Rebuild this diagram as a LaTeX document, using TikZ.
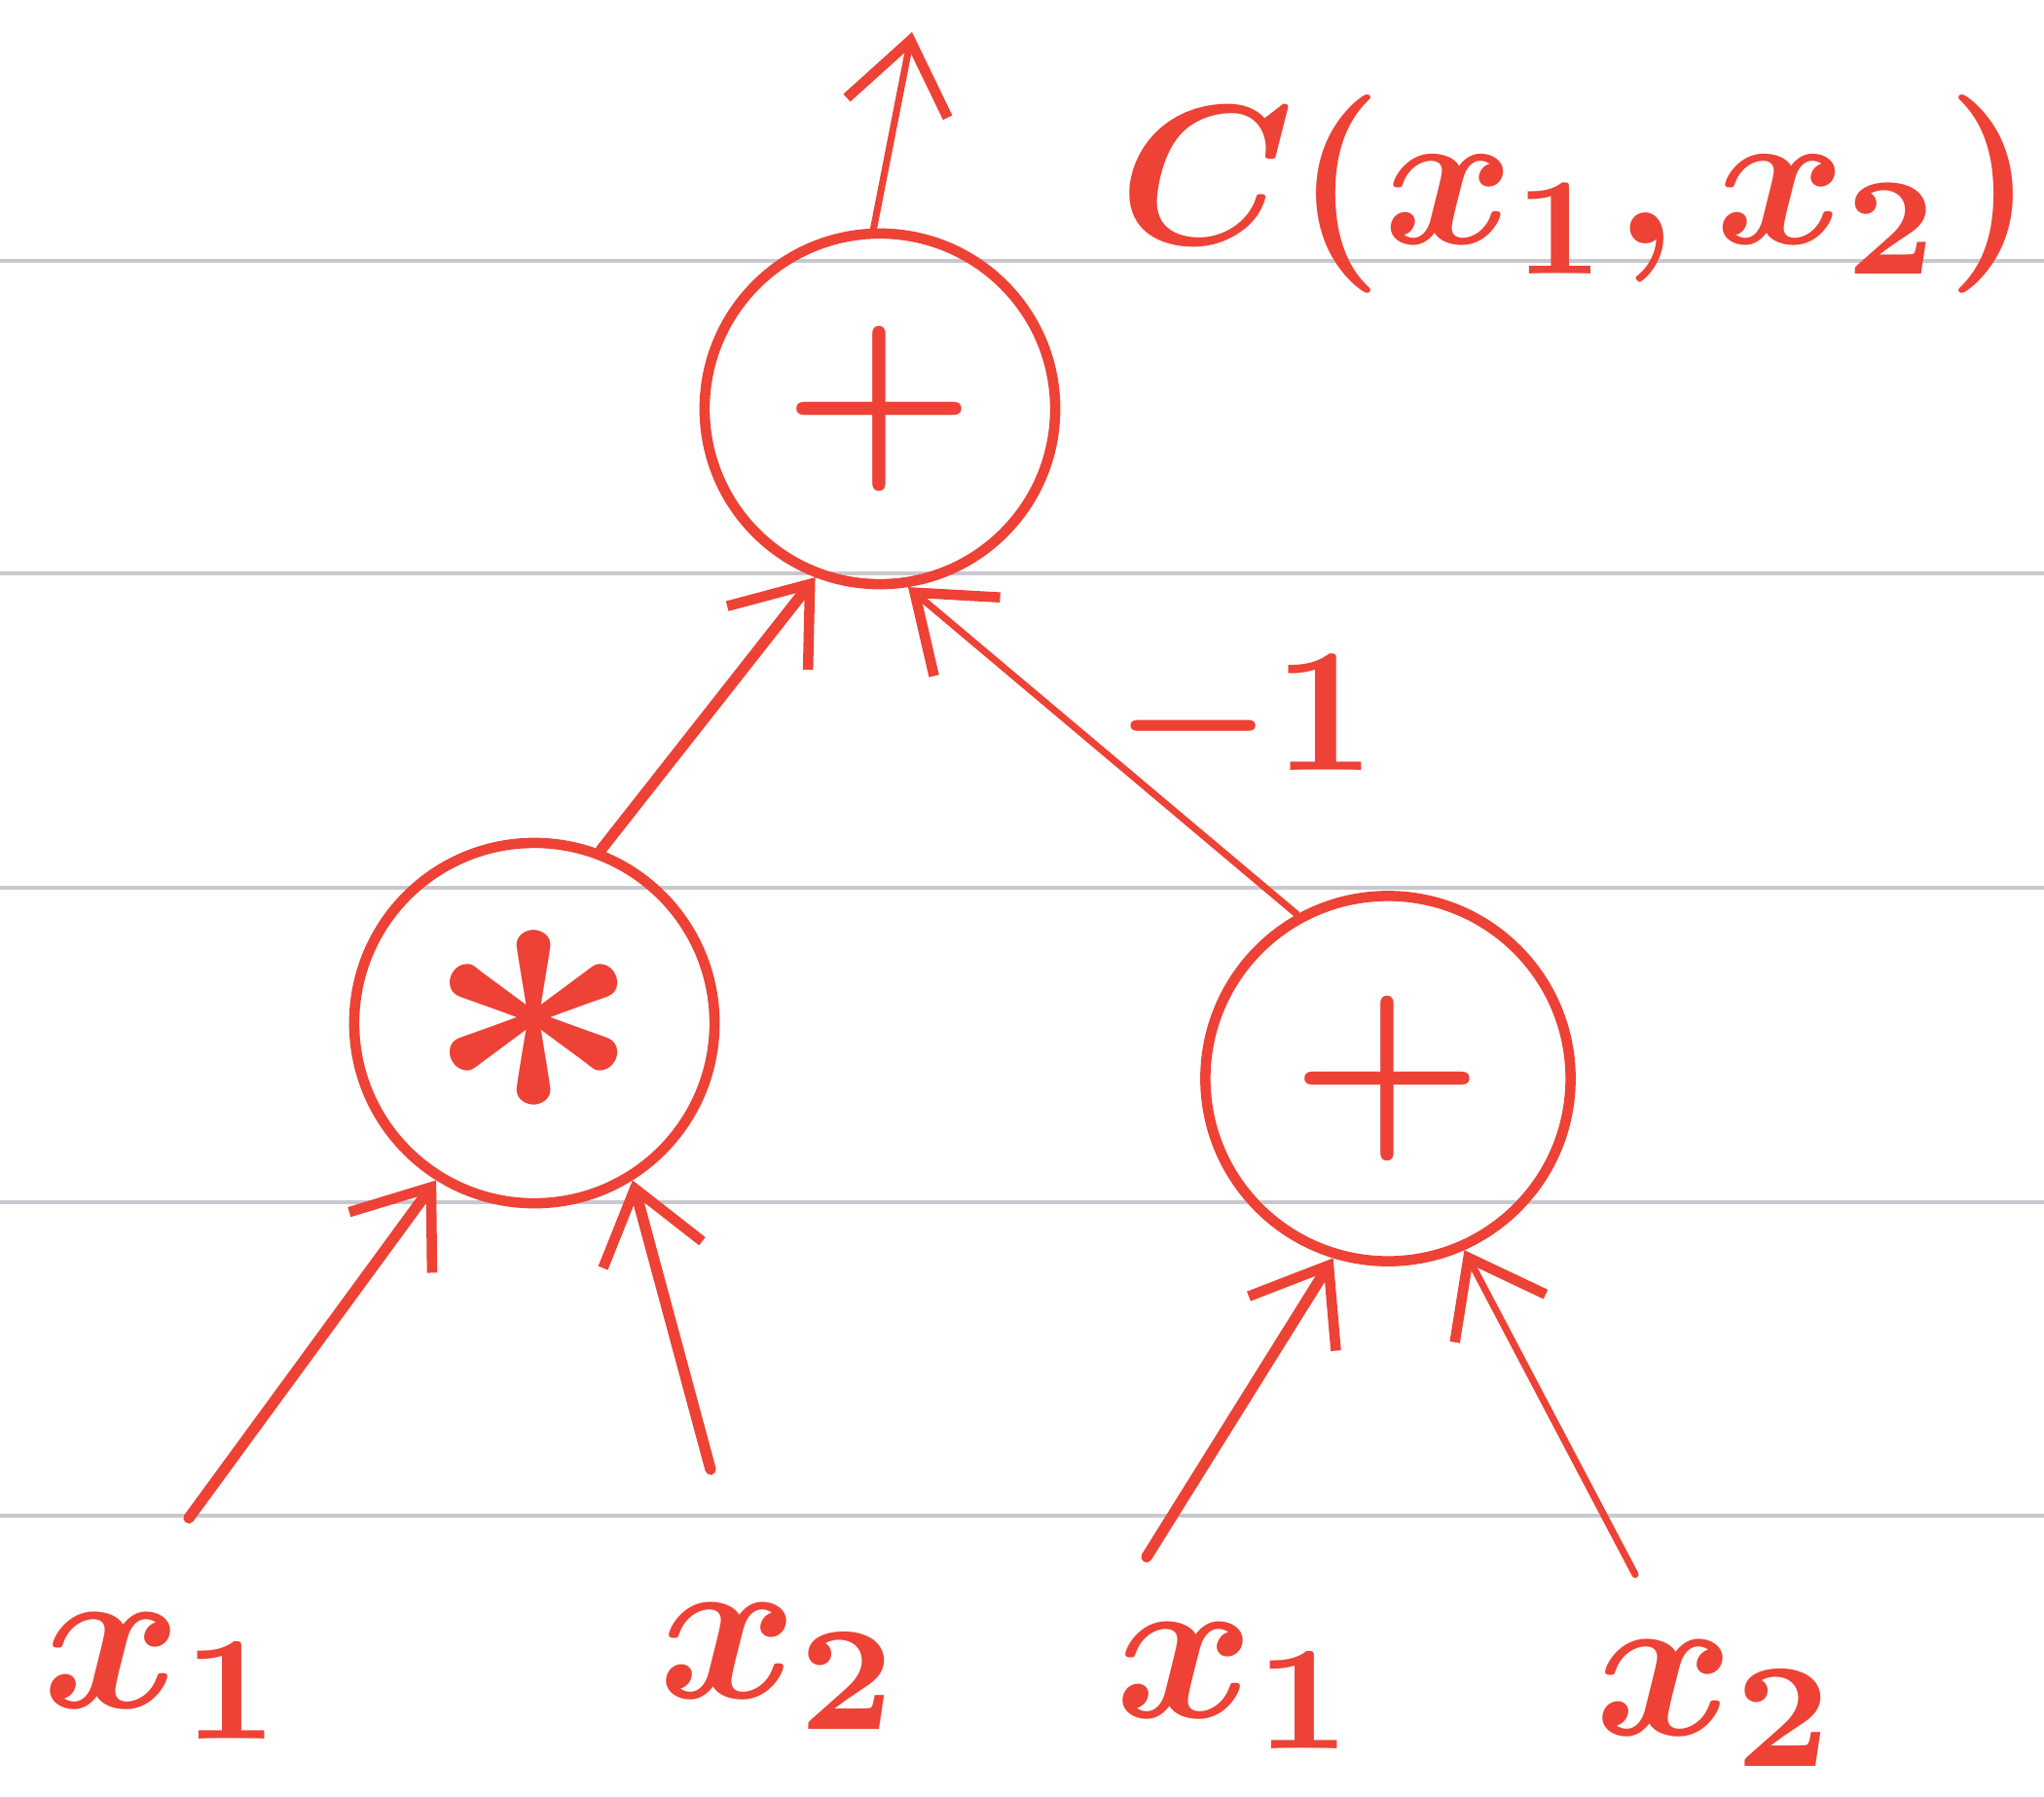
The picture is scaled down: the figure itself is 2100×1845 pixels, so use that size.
\documentclass[tikz,border=0pt]{standalone}
\usepackage{graphicx}
\usetikzlibrary{arrows.meta,calc}
\definecolor{ink}{RGB}{237,66,53}
\definecolor{paperline}{RGB}{200,200,206}
\newcommand{\handmath}[2]{\scalebox{#1}{\boldmath$#2$}}
\begin{document}
\begin{tikzpicture}[x=0.01cm,y=-0.01cm,
  ruleline/.style={draw=paperline,line width=0.9pt},
  opnode/.style={circle,draw=ink,line width=3pt,minimum size=3.6cm,inner sep=0pt,text=ink},
  leaf/.style={text=ink,inner sep=2pt},
  arr/.style={draw=ink,line width=3.2pt,line cap=round,-{Straight Barb[length=20pt,width=30pt,line width=3pt]}},
  thinarr/.style={arr,line width=2pt},
  lbl/.style={text=ink,inner sep=0pt}]
\fill[white] (0,0) rectangle (2100,1845);
\path[use as bounding box] (0,0) rectangle (2100,1845);
% ruled lines
\draw[ruleline] (0,268) -- (2100,268);
\draw[ruleline] (0,589) -- (2100,589);
\draw[ruleline] (0,912) -- (2100,912);
\draw[ruleline] (0,1235) -- (2100,1235);
\draw[ruleline] (0,1557) -- (2100,1557);
% operator nodes
\node[opnode] (ntop) at (904,420) {\handmath{6.3}{+}};
\node[opnode,minimum size=3.7cm] (nmul) at (549,1051) {\handmath{11.5}{\ast}};
\node[opnode,minimum size=3.75cm] (nadd) at (1426,1108) {\handmath{6.3}{+}};
% leaves
\node[leaf] (x1a) at (170,1722) {\handmath{6.2}{x_1}};
\node[leaf] (x2a) at (803,1712) {\handmath{6.2}{x_2}};
\node[leaf] (x1b) at (1272,1732) {\handmath{6.2}{x_1}};
\node[leaf] (x2b) at (1765,1750) {\handmath{6.2}{x_2}};
% output
\coordinate (outtip) at (937,33);
\node[lbl] (cost) at (1620,200) {\handmath{5.8}{C(x_1,x_2)}};
\node[lbl] (neg) at (1279,745) {\handmath{5.2}{-1}};
% connectors
\draw[thinarr] (ntop.92) -- (outtip);
\draw[arr] (nmul.69) -- (ntop.249);
\draw[thinarr] (nadd.119) -- (ntop.279);
\draw[arr] ($(x1a.north)+(24,-90)$) -- (nmul.238);
\draw[arr] ($(x2a.north)+(-73,-130)$) -- (nmul.302);
\draw[arr] ($(x1b.north)+(-94,-60)$) -- (nadd.253);
\draw[thinarr] ($(x2b.north)+(-85,-60)$) -- (nadd.294);
\end{tikzpicture}
\end{document}
